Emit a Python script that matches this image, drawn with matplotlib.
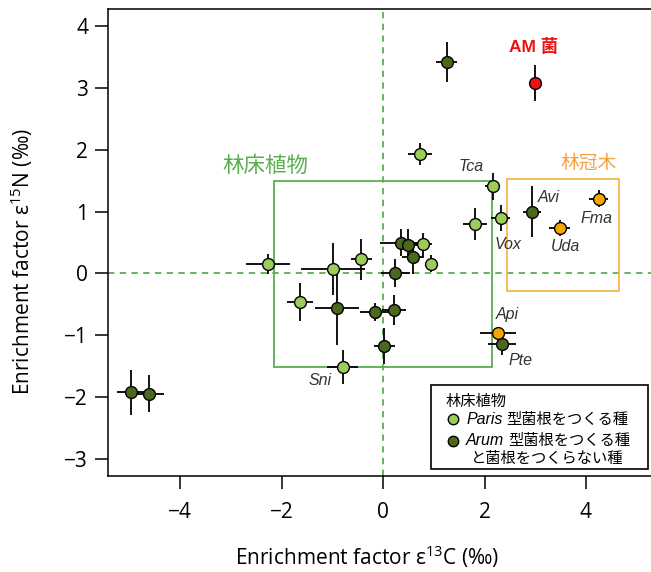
import numpy as np
import matplotlib
matplotlib.use('Agg')
import matplotlib.pyplot as plt
from matplotlib.patches import Rectangle
from matplotlib.lines import Line2D
from matplotlib.transforms import offset_copy

plt.rcParams['font.family'] = ['Open Sans', 'Noto Sans CJK JP', 'DejaVu Sans']
plt.rcParams['mathtext.fontset'] = 'custom'
plt.rcParams['mathtext.rm'] = 'Open Sans'

# ── data ──────────────────────────────────────────────────────────────────────
groups = ['arum', 'am', 'paris', 'paris', 'paris', 'paris', 'arum', 'tree', 'tree',
          'tree', 'arum', 'paris', 'paris', 'paris', 'paris', 'arum', 'arum', 'arum',
          'arum', 'paris', 'arum', 'arum', 'paris', 'arum', 'paris', 'arum', 'arum', 'arum']
c13 = [1.25, 3.00, 0.73, 2.16, 1.81, 2.32, 2.93, 3.48, 4.25,
       2.27, 2.34, -2.27, -0.98, -0.43, -1.64, -0.91, -0.16, 0.21,
       0.02, -0.80, 0.36, 0.50, 0.78, 0.59, 0.95, 0.24, -4.98, -4.61]
n15 = [3.41, 3.08, 1.93, 1.41, 0.80, 0.89, 1.00, 0.74, 1.21,
       -0.96, -1.14, 0.15, 0.07, 0.23, -0.46, -0.55, -0.62, -0.59,
       -1.17, -1.51, 0.50, 0.46, 0.47, 0.26, 0.16, 0.01, -1.92, -1.94]
c13_err = [0.20, 0.10, 0.24, 0.15, 0.24, 0.19, 0.18, 0.20, 0.19,
           0.36, 0.28, 0.43, 0.63, 0.21, 0.25, 0.43, 0.30, 0.24,
           0.21, 0.31, 0.42, 0.20, 0.19, 0.21, 0.13, 0.28, 0.26, 0.29]
n15_err = [0.32, 0.29, 0.18, 0.22, 0.26, 0.21, 0.41, 0.13, 0.13,
           0.08, 0.17, 0.16, 0.42, 0.33, 0.30, 0.60, 0.14, 0.24,
           0.29, 0.27, 0.21, 0.25, 0.19, 0.27, 0.14, 0.23, 0.36, 0.30]

species = ['Tca', 'Avi', 'Fma', 'Uda', 'Vox', 'Api', 'Pte', 'Sni']
species_xy = [(1.73, 1.73), (3.26, 1.22), (4.20, 0.89), (3.59, 0.43),
              (2.46, 0.46), (2.45, -0.67), (2.71, -1.41), (-1.24, -1.73)]

colors = {'paris': '#9ccc5c', 'arum': '#4b691e', 'tree': '#f7a600', 'am': '#ee1111'}

# ── figure ────────────────────────────────────────────────────────────────────
W, H = 651, 572
fig = plt.figure(figsize=(W / 100, H / 100), dpi=100)
ax = fig.add_axes([108.3 / W, 1 - 476 / H, (660 - 108.3) / W, (476 - 9) / H])
ax.set_xlim(-5.42, 5.46)
ax.set_ylim(-3.27, 4.27)

ax.axvline(0, color='#5aae50', lw=1.3, ls=(0, (3.5, 3)), zorder=1)
ax.axhline(0, color='#5aae50', lw=1.3, ls=(0, (3.5, 3)), zorder=1)

ax.add_patch(Rectangle((-2.15, -1.51), 4.30, 3.0, fill=False,
                       ec='#5aae50', lw=1.3, zorder=1))
ax.add_patch(Rectangle((2.45, -0.28), 2.21, 1.81, fill=False,
                       ec='#f8b84e', lw=1.3, zorder=1))

ax.errorbar(c13, n15, xerr=c13_err, yerr=n15_err, fmt='none',
            ecolor='black', elinewidth=1.3, capsize=0, zorder=2)
for g in ['paris', 'arum', 'tree', 'am']:
    idx = [i for i, gg in enumerate(groups) if gg == g]
    ax.plot([c13[i] for i in idx], [n15[i] for i in idx], 'o', ms=8.5,
            mfc=colors[g], mec='black', mew=1.0, zorder=3)

for name, (sx, sy) in zip(species, species_xy):
    ax.text(sx, sy, name, fontsize=11.5, style='italic', family='Liberation Sans',
            ha='center', va='center', color='#333333')

ax.text(-2.33, 1.74, '林床植物', fontsize=15.5, color='#5aae4e',
        family=['Noto Sans CJK JP'], ha='center', va='center')
ax.text(4.05, 1.78, '林冠木', fontsize=13.5, color='#f5a040',
        family=['Noto Sans CJK JP'], ha='center', va='center')
ax.text(2.96, 3.66, 'AM 菌', fontsize=12.5, color='#ee1111', fontweight='bold',
        family=['Liberation Sans', 'Noto Sans CJK JP'], ha='center', va='center')

ax.set_xticks([-4, -2, 0, 2, 4])
ax.set_xticklabels(['\u22124', '\u22122', '0', '2', '4'])
ax.set_yticks(range(-3, 5))
ax.set_yticklabels([('\u2212%d' % -v) if v < 0 else str(v) for v in range(-3, 5)])
ax.tick_params(direction='out', length=9.5, width=1.1, labelsize=15)
ax.tick_params(axis='x', pad=9)
ax.tick_params(axis='y', pad=5)
for sp in ax.spines.values():
    sp.set_linewidth(1.1)

fig.text(367 / W, 1 - 557 / H, 'Enrichment factor ε$^{13}$C (‰)', fontsize=15,
         ha='center', va='center')
fig.text(22 / W, 1 - 262 / H, 'Enrichment factor ε$^{15}$N (‰)', fontsize=15,
         ha='center', va='center', rotation=90)

# ── legend box (drawn by hand) ────────────────────────────────────────────────
def fpx(x, y):
    return x / W, 1 - y / H

lx0, ly0 = fpx(431, 469.3)
lx1, ly1 = fpx(647.7, 385)
fig.patches.append(Rectangle((lx0, ly0), lx1 - lx0, ly1 - ly0, fill=False,
                             ec='black', lw=1.2, transform=fig.transFigure,
                             zorder=5, figure=fig))
fig.text(*fpx(446, 401.7), '林床植物', fontsize=11, family=['Noto Sans CJK JP'],
         va='center', ha='left', zorder=6)
fig.canvas.draw()
for y, g, latin, rest in [(419.3, 'paris', 'Paris', '型菌根をつくる種'),
                          (440.7, 'arum', 'Arum', '型菌根をつくる種')]:
    fig.lines.append(Line2D([452.7 / W], [1 - y / H], marker='o', ms=7.5,
                            mfc=colors[g], mec='black', mew=1.0,
                            transform=fig.transFigure, figure=fig))
    t1 = fig.text(*fpx(466, y), latin, fontsize=11.5, style='italic',
                  family='Liberation Sans', va='center', ha='left')
    wpx = t1.get_window_extent(fig.canvas.get_renderer()).width
    fig.text(*fpx(466, y), rest, fontsize=11, family=['Noto Sans CJK JP'],
             va='center', ha='left',
             transform=offset_copy(fig.transFigure, fig, x=wpx + 4, units='dots'))
fig.text(*fpx(471, 458), 'と菌根をつくらない種', fontsize=11,
         family=['Noto Sans CJK JP'], va='center', ha='left')

fig.savefig('out.png', dpi=100)
